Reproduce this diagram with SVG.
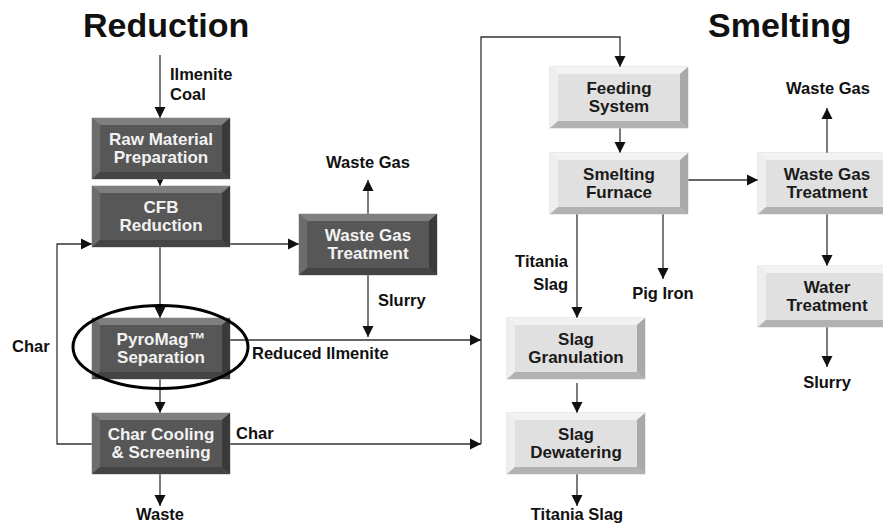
<svg xmlns="http://www.w3.org/2000/svg" xmlns:xlink="http://www.w3.org/1999/xlink" width="883" height="527" viewBox="0 0 883 527">
<style>
.title{font-family:"Liberation Sans",Arial,sans-serif;font-weight:bold;font-size:34px;fill:#111}
.lbl{font-family:"Liberation Sans",Arial,sans-serif;font-weight:bold;font-size:16.5px;fill:#111}
.dt{font-family:"Liberation Sans",Arial,sans-serif;font-weight:bold;font-size:17px;fill:#f2f2f2;text-anchor:middle}
.lt{font-family:"Liberation Sans",Arial,sans-serif;font-weight:bold;font-size:17px;fill:#1a1a1a;text-anchor:middle}
.c{fill:none;stroke:#333;stroke-width:1.3}
.ca{fill:none;stroke:#333;stroke-width:1.3;marker-end:url(#ah)}
</style>
<defs>
<marker id="ah" markerUnits="userSpaceOnUse" markerWidth="12" markerHeight="12" refX="11" refY="6" orient="auto">
<path d="M0,0.5 L11,6 L0,11.5 Z" fill="#111"/>
</marker>
<symbol id="dark" overflow="visible">
<rect x="0" y="0" width="138" height="61" fill="#555" stroke="#aaa" stroke-width="0.8"/>
<polygon points="0,0 138,0 130,7 8,7" fill="#7f7f7f"/>
<polygon points="0,0 8,7 8,54 0,61" fill="#6c6c6c"/>
<polygon points="138,0 138,61 130,54 130,7" fill="#3a3a3a"/>
<polygon points="0,61 8,54 130,54 138,61" fill="#444"/>
<rect x="8" y="7" width="122" height="47" fill="#575757"/>
</symbol>
<symbol id="light" overflow="visible">
<rect x="0" y="0" width="138" height="61" fill="#ddd" stroke="#ccc" stroke-width="0.8"/>
<polygon points="0,0 138,0 130,7 8,7" fill="#f2f2f2"/>
<polygon points="0,0 8,7 8,54 0,61" fill="#eeeeee"/>
<polygon points="138,0 138,61 130,54 130,7" fill="#a9a9a9"/>
<polygon points="0,61 8,54 130,54 138,61" fill="#b2b2b2"/>
<rect x="8" y="7" width="122" height="47" fill="#e0e0e0"/>
</symbol>
</defs>
<rect width="883" height="527" fill="#fff"/>
<text class="title" x="83" y="37">Reduction</text>
<text class="title" x="708" y="37">Smelting</text>

<g id="connectors">
<path class="ca" d="M160,55 V118"/>
<path class="ca" d="M160,179 V186"/>
<path class="ca" d="M160,247 V318"/>
<path class="ca" d="M160,379 V413"/>
<path class="ca" d="M160,474 V506"/>
<path class="ca" d="M230,244 H299"/>
<path class="ca" d="M368,214 V180"/>
<path class="ca" d="M368,275 V337"/>
<path class="ca" d="M230,340 H481"/>
<path class="ca" d="M230,444 H481"/>
<path class="ca" d="M481,444 V37 H620 V67"/>
<path class="ca" d="M92,444 H57 V244 H92"/>
<path class="ca" d="M620,128 V153"/>
<path class="ca" d="M688,180 H758"/>
<path class="ca" d="M827,153 V108"/>
<path class="ca" d="M827,214 V266"/>
<path class="ca" d="M827,327 V367"/>
<path class="ca" d="M577,214 V318"/>
<path class="ca" d="M663,214 V279"/>
<path class="ca" d="M577,383 V413"/>
<path class="ca" d="M577,474 V506"/>
</g>

<g id="labels">
<text class="lbl" x="170" y="80">Ilmenite</text>
<text class="lbl" x="170" y="100">Coal</text>
<text class="lbl" x="368" y="168" text-anchor="middle">Waste Gas</text>
<text class="lbl" x="378" y="306">Slurry</text>
<text class="lbl" x="252" y="359">Reduced Ilmenite</text>
<text class="lbl" x="12" y="352">Char</text>
<text class="lbl" x="236" y="439">Char</text>
<text class="lbl" x="160" y="520" text-anchor="middle">Waste</text>
<text class="lbl" x="568" y="267" text-anchor="end">Titania</text>
<text class="lbl" x="568" y="290" text-anchor="end">Slag</text>
<text class="lbl" x="663" y="299" text-anchor="middle">Pig Iron</text>
<text class="lbl" x="577" y="520" text-anchor="middle">Titania Slag</text>
<text class="lbl" x="828" y="94" text-anchor="middle">Waste Gas</text>
<text class="lbl" x="827" y="388" text-anchor="middle">Slurry</text>
</g>

<g id="raw"><use xlink:href="#dark" x="92" y="118"/><text class="dt" x="161" y="145">Raw Material</text><text class="dt" x="161" y="163">Preparation</text></g>
<g id="cfb"><use xlink:href="#dark" x="92" y="186"/><text class="dt" x="161" y="213">CFB</text><text class="dt" x="161" y="231">Reduction</text></g>
<g id="wgt1"><use xlink:href="#dark" x="299" y="214"/><text class="dt" x="368" y="241">Waste Gas</text><text class="dt" x="368" y="259">Treatment</text></g>
<g id="pyro"><use xlink:href="#dark" x="92" y="318"/><text class="dt" x="161" y="345">PyroMag™</text><text class="dt" x="161" y="363">Separation</text></g>
<g id="charcool"><use xlink:href="#dark" x="92" y="413"/><text class="dt" x="161" y="440">Char Cooling</text><text class="dt" x="161" y="458">&amp; Screening</text></g>
<g id="feed"><use xlink:href="#light" x="550" y="67"/><text class="lt" x="619" y="94">Feeding</text><text class="lt" x="619" y="112">System</text></g>
<g id="furnace"><use xlink:href="#light" x="550" y="153"/><text class="lt" x="619" y="180">Smelting</text><text class="lt" x="619" y="198">Furnace</text></g>
<g id="wgt2"><use xlink:href="#light" x="758" y="153"/><text class="lt" x="827" y="180">Waste Gas</text><text class="lt" x="827" y="198">Treatment</text></g>
<g id="water"><use xlink:href="#light" x="758" y="266"/><text class="lt" x="827" y="293">Water</text><text class="lt" x="827" y="311">Treatment</text></g>
<g id="gran"><use xlink:href="#light" x="507" y="318"/><text class="lt" x="576" y="345">Slag</text><text class="lt" x="576" y="363">Granulation</text></g>
<g id="dew"><use xlink:href="#light" x="507" y="413"/><text class="lt" x="576" y="440">Slag</text><text class="lt" x="576" y="458">Dewatering</text></g>

<g id="highlight"><ellipse cx="160.5" cy="347" rx="87.5" ry="41.5" fill="none" stroke="#000" stroke-width="3"/></g>
</svg>
